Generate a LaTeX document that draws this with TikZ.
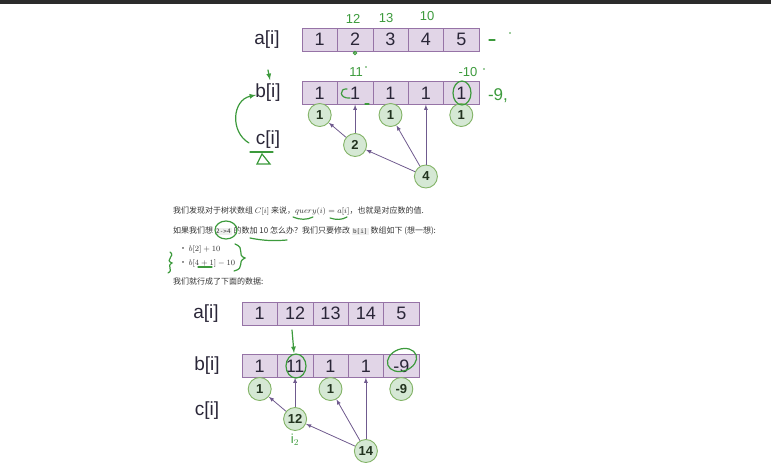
\documentclass[tikz,border=0pt]{standalone}
\usepackage{fontspec}
\setmainfont{Liberation Sans}
\setmonofont{DejaVu Sans Mono}
\newfontfamily\cjk{Noto Sans CJK SC}
\usepackage{xcolor}
\definecolor{cellfill}{HTML}{E1D5E7}
\definecolor{celldraw}{HTML}{9673A6}
\definecolor{treefill}{HTML}{D5E8D4}
\definecolor{treedraw}{HTML}{82B366}
\definecolor{linkcol}{HTML}{6F5A8E}
\definecolor{ink}{HTML}{2A2638}
\definecolor{treeink}{HTML}{22331F}
\definecolor{pengreen}{HTML}{3C9A3C}
\definecolor{bodytext}{HTML}{333333}
\definecolor{codebg}{HTML}{EEEEEE}
\definecolor{topbar}{HTML}{2B2B2B}
\newcommand{\codechip}[1]{{\setlength{\fboxsep}{1.2pt}\colorbox{codebg}{\ttfamily\fontsize{6}{6}\selectfont #1}}}

\begin{document}
\begin{tikzpicture}[x=1pt,y=1pt,yscale=-1,xscale=1,
    cell/.style={draw=celldraw,fill=cellfill,minimum width=35.4pt,minimum height=23pt,inner sep=0pt,text=ink,font=\fontsize{18}{18}\selectfont},
    rowname/.style={text=ink,inner sep=0pt,font=\fontsize{19}{19}\selectfont},
    tree/.style={circle,draw=treedraw,fill=treefill,line width=0.9pt,minimum size=23pt,inner sep=0pt,text=treeink,font=\bfseries\fontsize{13}{13}\selectfont},
    link/.style={-latex,draw=linkcol,line width=0.8pt},
    handline/.style={draw=pengreen,line width=1.2pt,line cap=round},
    handtext/.style={text=pengreen,inner sep=0pt,font=\fontsize{13}{13}\selectfont},
    bodyline/.style={anchor=west,inner sep=0pt,text=bodytext,font=\cjk\fontsize{8}{8}\selectfont}]
\useasboundingbox (0,0) rectangle (771,464);
\fill[topbar] (0,0) rectangle (771,4);

        %top arrays
        \node[rowname] (aname) at (267,39.5) {a[i]};
        \node[cell] (a1) at (319.7,39.5) {1};
        \node[cell] (a2) at (355.1,39.5) {2};
        \node[cell] (a3) at (390.5,39.5) {3};
        \node[cell] (a4) at (425.9,39.5) {4};
        \node[cell] (a5) at (461.3,39.5) {5};
        \node[rowname] (bname) at (268,93) {b[i]};
        \node[cell] (b1) at (319.7,93) {1};
        \node[cell] (b2) at (355.1,93) {1};
        \node[cell] (b3) at (390.5,93) {1};
        \node[cell] (b4) at (425.9,93) {1};
        \node[cell] (b5) at (461.3,93) {1};
        \node[rowname] (cname) at (268,140) {c[i]};
        %top tree
        \node[tree] (t1) at (319.7,115) {1};
        \node[tree] (t2) at (355.1,145) {2};
        \node[tree] (t3) at (390.5,115) {1};
        \node[tree] (t4) at (425.9,176.5) {4};
        \node[tree] (t5) at (461.3,115) {1};
        \draw[link] (t2) -- (t1);
        \draw[link] (t2) -- (b2.south);
        \draw[link] (t4) -- (t3);
        \draw[link] (t4) -- (b4.south);
        \draw[link] (t4) -- (t2);

        %text
        \node[bodyline] (line1) at (173,211) {我们发现对于树状数组 $C[i]$ 来说，$query(i) = a[i]$，也就是对应数的值.};
        \node[bodyline] (line2) at (173,231) {如果我们想 \codechip{2->4} 的数加 10 怎么办？我们只要修改 \codechip{b[i]} 数组如下 (想一想):};
        \node[bodyline] (item1) at (179,249) {\textbullet\ $b[2]+10$};
        \node[bodyline] (item2) at (179,263) {\textbullet\ $b[4+1]-10$};
        \node[bodyline] (line3) at (173,281) {我们就行成了下面的数据:};

        %bottom arrays
        \node[rowname] (aname2) at (206,313.5) {a[i]};
        \node[cell] (p1) at (259.7,313.5) {1};
        \node[cell] (p2) at (295.1,313.5) {12};
        \node[cell] (p3) at (330.5,313.5) {13};
        \node[cell] (p4) at (365.9,313.5) {14};
        \node[cell] (p5) at (401.3,313.5) {5};
        \node[rowname] (bname2) at (207,366) {b[i]};
        \node[cell] (q1) at (259.7,366) {1};
        \node[cell] (q2) at (295.1,366) {11};
        \node[cell] (q3) at (330.5,366) {1};
        \node[cell] (q4) at (365.9,366) {1};
        \node[cell] (q5) at (401.3,366) {-9};
        \node[rowname] (cname2) at (207,411) {c[i]};
        %bottom tree
        \node[tree] (s1) at (259.7,389) {1};
        \node[tree] (s2) at (295.1,419) {12};
        \node[tree] (s3) at (330.5,389) {1};
        \node[tree] (s4) at (365.9,451) {14};
        \node[tree] (s5) at (401.3,389) {-9};
        \draw[link] (s2) -- (s1);
        \draw[link] (s2) -- (q2.south);
        \draw[link] (s4) -- (s3);
        \draw[link] (s4) -- (q4.south);
        \draw[link] (s4) -- (s2);

        %pen marks, top
        \node[handtext] (h12) at (353,19) {12};
        \node[handtext] (h13) at (386,18) {13};
        \node[handtext] (h10) at (427,16) {10};
        \node[handtext] (h11) at (356,72) {11};
        \node[handtext] (hm10) at (468,72) {-10};
        \node[handtext,font=\fontsize{17}{17}\selectfont] (hm9) at (498,96) {-9,};
        \fill[pengreen] (510,33) circle (0.9);
        \fill[pengreen] (366,67) circle (0.9);
        \fill[pengreen] (484,69) circle (0.9);
        \draw[handline] (355,53) circle (1.6);
        \draw[handline] (489,40) -- (495,40);
        \draw[handline] (462,93) ellipse (9 and 12);
        \draw[handline] (347,89) .. controls (339,88) and (339,99) .. (350,98);
        \draw[handline] (365,104) -- (369,104);
        \draw[handline,-latex] (268,70) -- (270,80);
        \draw[handline,-latex] (249,143) .. controls (230,132) and (232,100) .. (256,95);
        \draw[handline] (250,152) -- (273,152);
        \draw[handline] (262,154) -- (257,164) -- (270,164) -- cycle;
        %pen marks, text
        \draw[handline] (226,230) ellipse (11 and 9);
        \draw[handline] (250,238) .. controls (265,241) and (275,241) .. (287,240);
        \draw[handline] (293,217) .. controls (300,220) and (307,220) .. (313,217);
        \draw[handline] (330,218) .. controls (336,220) and (342,220) .. (347,217);
        \draw[handline] (198,267) -- (212,267);
        \draw[handline] (170,252) .. controls (176,256) and (164,260) .. (172,263) .. controls (166,266) and (174,270) .. (168,273);
        \draw[handline] (235,244) .. controls (246,248) and (236,255) .. (245,258) .. controls (236,262) and (246,268) .. (234,271);
        %pen marks, bottom
        \draw[handline,-latex] (292,330) -- (294,353);
        \draw[handline] (296,366) ellipse (10 and 12);
        \draw[handline,rotate around={-20:(402,360)}] (402,360) ellipse (15 and 11);
        \node[handtext] (hi2) at (295,440) {i$_2$};
    \end{tikzpicture}
\end{document}
